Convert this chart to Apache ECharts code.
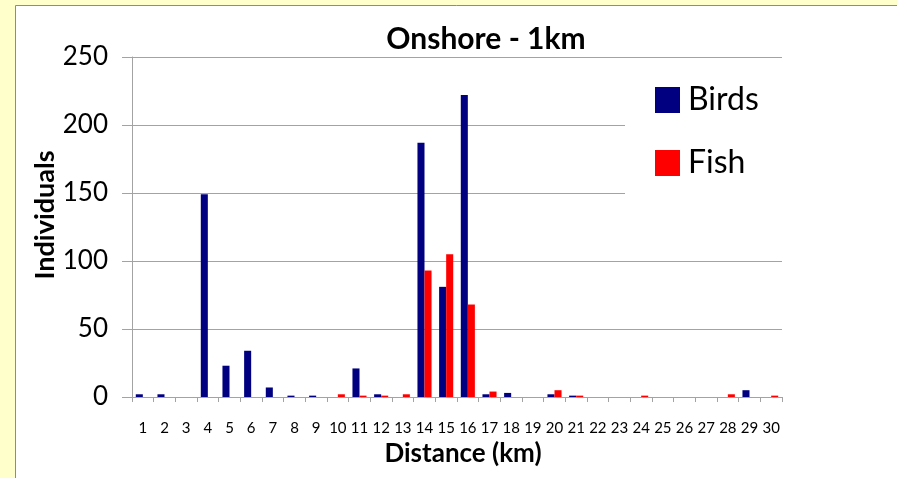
<!DOCTYPE html>
<html>
<head>
<meta charset="utf-8">
<script src="https://cdn.jsdelivr.net/npm/echarts@6/dist/echarts.min.js"></script>
<style>
  html, body { margin: 0; padding: 0; background: #fff; }
  #chart { width: 897px; height: 478px; }
</style>
</head>
<body>
<div id="chart"></div>
<script>
// Distance bins (km)
const distances = ['1','2','3','4','5','6','7','8','9','10','11','12','13','14','15','16','17','18','19','20','21','22','23','24','25','26','27','28','29','30'];
// Counts of individuals per distance bin
const birds = [2, 2, 0, 149, 23, 34, 7, 1, 1, 0, 21, 2, 0, 187, 81, 222, 2, 3, 0, 2, 1, 0, 0, 0, 0, 0, 0, 0, 5, 0];
const fish  = [0, 0, 0, 0, 0, 0, 0, 0, 0, 2, 1, 1, 2, 93, 105, 68, 4, 0, 0, 5, 1, 0, 0, 1, 0, 0, 0, 2, 0, 1];
const yTicks = { min: 0, max: 250, step: 50 };

const FONT = 'Lato, "Open Sans", sans-serif';
const GRID_COLOR = '#a3a3a3';

const chart = echarts.init(document.getElementById('chart'));
chart.setOption({
  backgroundColor: '#ffffff',
  animation: false,
  textStyle: { fontFamily: FONT, color: '#000' },
  graphic: [
    // pale yellow frame around the chart panel
    { type: 'rect', shape: { x: 0, y: 0, width: 897, height: 5 }, style: { fill: '#ffffcc' }, silent: true },
    { type: 'rect', shape: { x: 0, y: 0, width: 15, height: 478 }, style: { fill: '#ffffcc' }, silent: true },
    { type: 'line', shape: { x1: 15.5, y1: 5.5, x2: 897, y2: 5.5 }, style: { stroke: '#8c8c8c', lineWidth: 1 }, silent: true },
    { type: 'line', shape: { x1: 15.5, y1: 5.5, x2: 15.5, y2: 478 }, style: { stroke: '#8c8c8c', lineWidth: 1 }, silent: true }
  ],
  title: {
    text: 'Onshore - 1km',
    left: 481,
    textAlign: 'center',
    top: 19,
    textStyle: { fontFamily: FONT, fontSize: 30, fontWeight: 'bold', color: '#000' }
  },
  legend: {
    orient: 'vertical',
    left: 625,
    top: 68,
    padding: [15, 25, 15, 30],
    backgroundColor: '#ffffff',
    itemWidth: 25,
    itemHeight: 26,
    itemGap: 29,
    icon: 'rect',
    textStyle: { fontFamily: FONT, fontSize: 32, lineHeight: 34, color: '#000', padding: [0, 0, 0, 3] },
    data: ['Birds', 'Fish']
  },
  grid: { left: 132, right: 115, top: 57, bottom: 81, containLabel: false, outerBoundsMode: 'none' },
  xAxis: {
    type: 'category',
    data: distances,
    boundaryGap: true,
    name: 'Distance (km)',
    nameLocation: 'middle',
    nameGap: 44,
    nameMoveOverlap: false,
    nameTextStyle: { fontFamily: FONT, fontSize: 26, fontWeight: 'bold', color: '#000', padding: [0, 0, 0, 12] },
    axisLine: { lineStyle: { color: GRID_COLOR, width: 1 } },
    axisTick: { show: true, length: 5, alignWithLabel: false, lineStyle: { color: GRID_COLOR } },
    axisLabel: { interval: 0, margin: 24, fontFamily: FONT, fontSize: 15, color: '#000' },
    splitLine: { show: false }
  },
  yAxis: {
    type: 'value',
    min: yTicks.min,
    max: yTicks.max,
    interval: yTicks.step,
    name: 'Individuals',
    nameLocation: 'middle',
    nameRotate: 90,
    nameGap: 73,
    nameMoveOverlap: false,
    nameTextStyle: { fontFamily: FONT, fontSize: 27, fontWeight: 'bold', color: '#000', padding: [0, 0, 0, 24] },
    axisLine: { show: true, lineStyle: { color: GRID_COLOR, width: 1 } },
    axisTick: { show: true, length: 10, lineStyle: { color: GRID_COLOR } },
    axisLabel: { margin: 24, fontFamily: FONT, fontSize: 26, color: '#000' },
    splitLine: { show: true, lineStyle: { color: GRID_COLOR, width: 1 } }
  },
  series: [
    {
      name: 'Birds',
      type: 'bar',
      data: birds,
      barGap: '0%',
      barCategoryGap: '35%',
      itemStyle: { color: '#000080' }
    },
    {
      name: 'Fish',
      type: 'bar',
      data: fish,
      barGap: '0%',
      barCategoryGap: '35%',
      itemStyle: { color: '#ff0000' }
    }
  ]
});
</script>
</body>
</html>
